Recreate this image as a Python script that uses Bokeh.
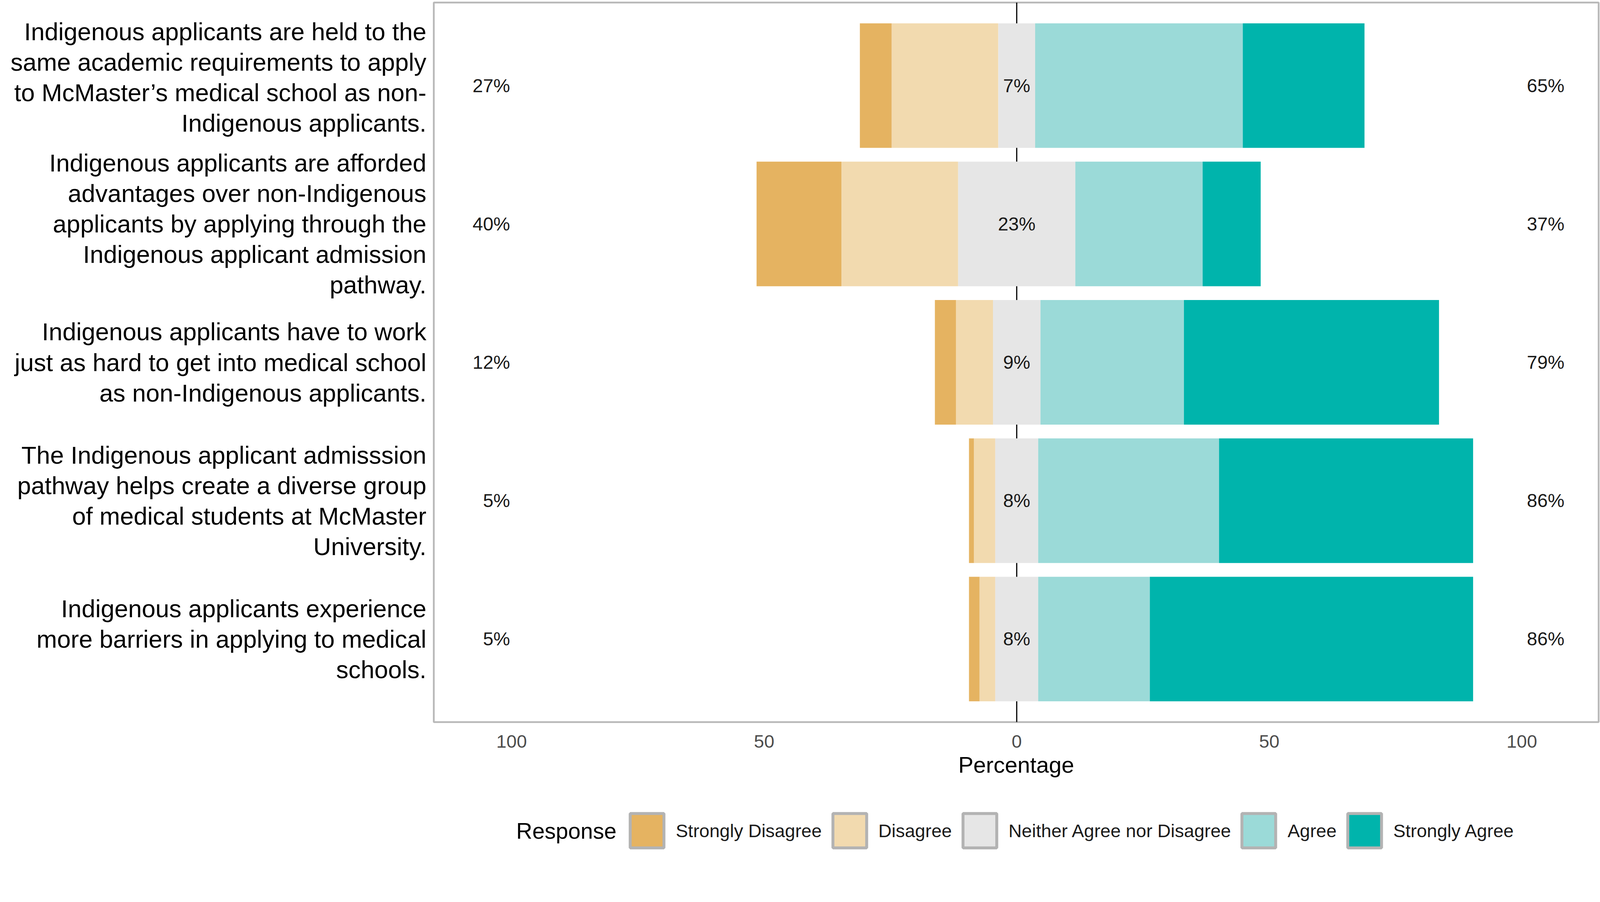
from bokeh.plotting import figure
from bokeh.layouts import column
from bokeh.models import ColumnDataSource, Range1d, FixedTicker, Span, Legend, LegendItem
from bokeh.embed import file_html
from bokeh.resources import INLINE
from bokeh.core.properties import value

FONT = "Liberation Sans"

# ---- data ----
item_lines = [
    ["Indigenous applicants are held to the", "same academic requirements to apply",
     "to McMaster\u2019s medical school as non-", "Indigenous applicants."],
    ["Indigenous applicants are afforded", "advantages over non-Indigenous",
     "applicants by applying through the", "Indigenous applicant admission", "pathway."],
    ["Indigenous applicants have to work", "just as hard to get into medical school",
     "as non-Indigenous applicants."],
    ["The Indigenous applicant admisssion", "pathway helps create a diverse group",
     "of medical students at McMaster", "University."],
    ["Indigenous applicants experience", "more barriers in applying to medical", "schools."],
]
row_pos = [5, 4, 3, 2, 1]

legend_title = "Response"
responses = ["Strongly Disagree", "Disagree", "Neither Agree nor Disagree", "Agree", "Strongly Agree"]
colors = ["#E5B361", "#F2DAAF", "#E6E6E6", "#9BDAD8", "#00B4AC"]

strongly_disagree = [6.3, 16.8, 4.2, 1.0, 2.1]
disagree = [21.1, 23.1, 7.3, 4.2, 3.1]
neutral = [7.3, 23.2, 9.4, 8.5, 8.5]
agree = [41.1, 25.2, 28.4, 35.8, 22.1]
strongly_agree = [24.1, 11.5, 50.5, 50.3, 64.0]

low_labels = ["27%", "40%", "12%", "5%", "5%"]
neutral_labels = ["7%", "23%", "9%", "8%", "8%"]
high_labels = ["65%", "37%", "79%", "86%", "86%"]

x_ticks = [-100, -50, 0, 50, 100]
x_tick_labels = ["100", "50", "0", "50", "100"]

FW = 2982          # frame width shared by both stacked figures
BL, BR = 1110, 10  # left / right borders

# ---- main figure ----
p = figure(output_backend="svg", toolbar_location=None,
           frame_width=FW, frame_height=1842,
           x_range=Range1d(-115.4, 115.2), y_range=Range1d(0.4, 5.6),
           min_border_left=BL, min_border_right=BR, min_border_top=6, min_border_bottom=200)
p.background_fill_color = "white"
p.border_fill_color = "white"
p.outline_line_color = "#B8B8B8"
p.outline_line_width = 4.5
p.xgrid.visible = False
p.ygrid.visible = False

p.add_layout(Span(location=0, dimension="height", line_color="black", line_width=3, level="underlay"))

# stacked diverging bars
segs = [strongly_disagree, disagree, neutral, agree, strongly_agree]
n = len(row_pos)
lefts = [[0.0] * n for _ in range(5)]
rights = [[0.0] * n for _ in range(5)]
for r in range(n):
    cur = -(strongly_disagree[r] + disagree[r] + neutral[r] / 2.0)
    for i in range(5):
        lefts[i][r] = cur
        cur += segs[i][r]
        rights[i][r] = cur

for i in range(5):
    src = ColumnDataSource(dict(y=row_pos, left=lefts[i], right=rights[i]))
    p.hbar(y="y", left="left", right="right", height=0.9, source=src,
           fill_color=colors[i], line_color=None)

# percentage labels
txt_common = dict(text_font=value(FONT), text_font_size="48px", text_baseline="middle", text_color="#1A1A1A")
p.text(x=[-100.3] * n, y=row_pos, text=low_labels, text_align="right", **txt_common)
p.text(x=[0] * n, y=row_pos, text=neutral_labels, text_align="center", **txt_common)
p.text(x=[101.0] * n, y=row_pos, text=high_labels, text_align="left", **txt_common)

# x axis
p.xaxis.ticker = FixedTicker(ticks=x_ticks)
p.xaxis.major_label_overrides = {t: l for t, l in zip(x_ticks, x_tick_labels)}
p.xaxis.axis_line_color = None
p.xaxis.major_tick_line_color = None
p.xaxis.minor_tick_line_color = None
p.xaxis.major_label_standoff = 27
p.xaxis.major_label_text_font = FONT
p.xaxis.major_label_text_font_size = "47px"
p.xaxis.major_label_text_color = "#4D4D4D"
p.xaxis.axis_label = "Percentage"
p.xaxis.axis_label_text_font = FONT
p.xaxis.axis_label_text_font_style = "normal"
p.xaxis.axis_label_text_font_size = "58px"
p.xaxis.axis_label_text_color = "black"
p.xaxis.axis_label_standoff = 8

# y axis: one tick per label line, so every line is right aligned
LINE = 0.2205
y_ticks = []
y_over = {}
for r, lines in enumerate(item_lines):
    k = len(lines)
    shift = 0.06 if r == 0 else 0.0
    for j, line in enumerate(lines):
        t = round(row_pos[r] + ((k - 1) / 2.0 - j) * LINE + shift, 4)
        y_ticks.append(t)
        y_over[t] = line
p.yaxis.ticker = FixedTicker(ticks=y_ticks)
p.yaxis.major_label_overrides = y_over
p.yaxis.axis_line_color = None
p.yaxis.major_tick_line_color = None
p.yaxis.minor_tick_line_color = None
p.yaxis.major_label_standoff = 13
p.yaxis.major_label_text_font = FONT
p.yaxis.major_label_text_font_size = "63px"
p.yaxis.major_label_text_color = "black"

# ---- legend strip (pixel-unit ranges, same frame alignment as the main plot) ----
LH = 133
q = figure(output_backend="svg", toolbar_location=None, frame_width=FW, frame_height=LH,
           x_range=Range1d(0, FW), y_range=Range1d(0, LH),
           x_axis_location=None, y_axis_location=None,
           min_border_left=BL, min_border_right=BR, min_border_top=0, min_border_bottom=0)
q.outline_line_color = None
q.xgrid.visible = False
q.ygrid.visible = False
q.background_fill_color = "white"
q.border_fill_color = "white"

q.text(x=[211], y=[55], text=[legend_title], text_font=value(FONT), text_font_size="57px",
       text_baseline="middle", text_align="left", text_color="black")

items = []
for i in range(5):
    rr = q.rect(x=[-1000], y=[-1000], width=1, height=1, fill_color=colors[i],
                line_color="#B3B3B3", line_width=7.5)
    items.append(LegendItem(label=responses[i], renderers=[rr]))

legend = Legend(items=items, orientation="horizontal", location=(492, 0),
                glyph_width=108, glyph_height=110, label_standoff=20, spacing=17,
                padding=0, margin=0, border_line_color=None, background_fill_alpha=0,
                label_text_font=FONT, label_text_font_size="47px", label_text_color="#1A1A1A",
                label_text_baseline="middle")
q.add_layout(legend, "center")

layout = column(p, q, spacing=0)
open("out.html", "w").write(file_html(layout, INLINE))
